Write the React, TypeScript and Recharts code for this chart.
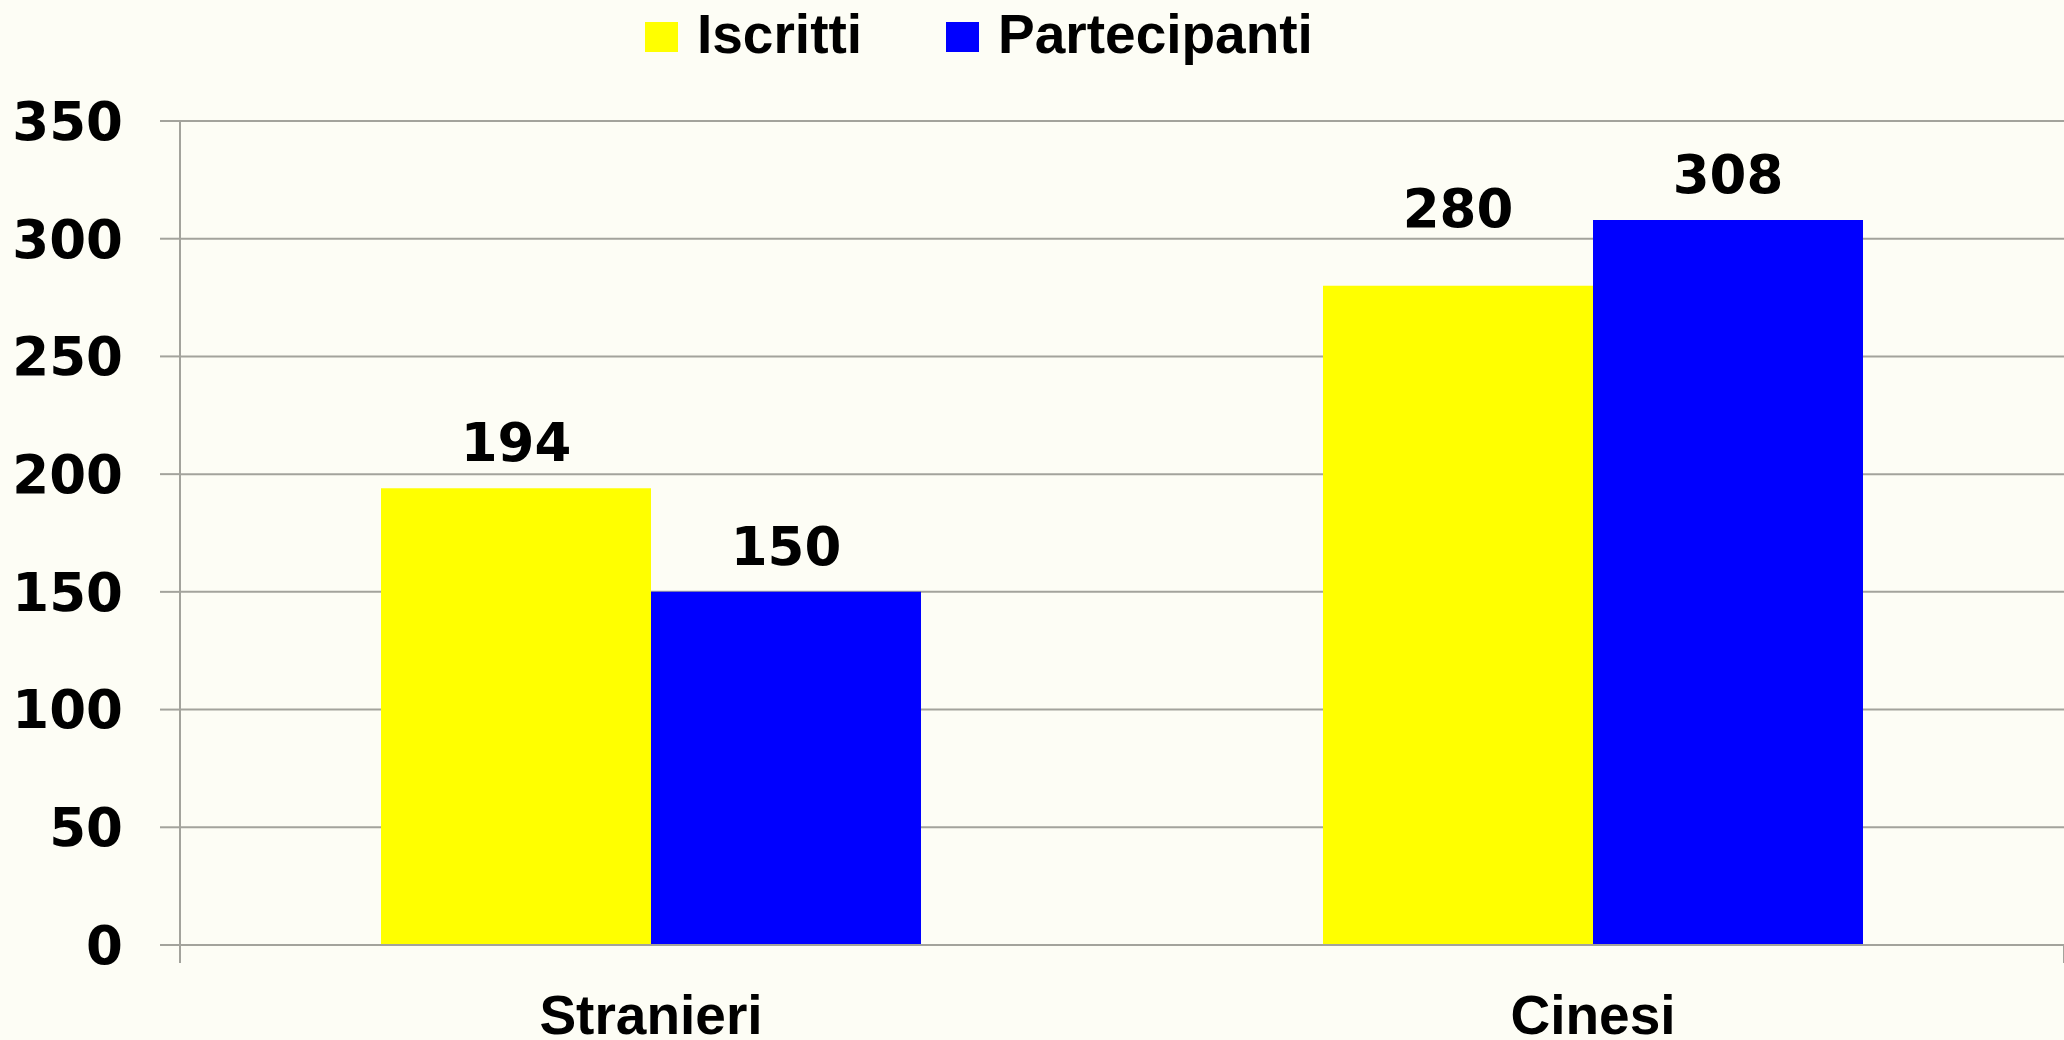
import { Bar, BarChart, CartesianGrid, LabelList, Legend, XAxis, YAxis } from "recharts";

const categories = ["Stranieri", "Cinesi"];
const iscritti = [194, 280];
const partecipanti = [150, 308];
const yTicks = [0, 50, 100, 150, 200, 250, 300, 350];
// category boundaries on a 0..2 scale (left edge and the divider)
const sepTicks = [0, 1];

const data = categories.map((name, i) => ({
  name,
  iscritti: iscritti[i],
  partecipanti: partecipanti[i],
}));

const GRID = "#a3a39c";
const NUM_FONT = "'DejaVu Sans', sans-serif";
const TEXT_FONT = "'Liberation Sans', Arial, sans-serif";

// the 280 label sits higher above its bar in the original
const iscrittiLabelGap = [27, 59];
const partecipantiLabelGap = [27, 27];

const makeLabel = (gaps: number[]) => (props: any) => {
  const { x, y, width, value, index } = props;
  return (
    <text
      x={Number(x) + Number(width) / 2}
      y={Number(y) - gaps[index]}
      textAnchor="middle"
      fontFamily={NUM_FONT}
      fontWeight={700}
      fontSize={53}
      fill="#000"
    >
      {value}
    </text>
  );
};

// legend drawn by hand so the squares and spacing match the original
const renderLegend = (props: any) => {
  const items = props.payload || [];
  return (
    <div style={{ display: "flex", alignItems: "center", height: 69 }}>
      {items.map((it: any, i: number) => (
        <div
          key={it.value}
          style={{
            display: "flex",
            alignItems: "center",
            marginLeft: i === 0 ? 0 : 84,
          }}
        >
          <span
            style={{
              display: "inline-block",
              width: 33,
              height: 30,
              background: it.color,
              marginTop: 5,
              marginRight: 19,
            }}
          />
          <span
            style={{
              fontFamily: TEXT_FONT,
              fontWeight: 700,
              fontSize: 55,
              lineHeight: 1,
              color: "#000",
            }}
          >
            {it.value}
          </span>
        </div>
      ))}
    </div>
  );
};

export default function App() {
  return (
    <div
      style={{
        position: "absolute",
        left: 0,
        top: 0,
        width: 2064,
        height: 1040,
        background: "#fdfdf5",
      }}
    >
      <BarChart
        width={2064}
        height={1040}
        data={data}
        margin={{ top: 121, right: 0, bottom: 0, left: 0 }}
        barCategoryGap={201}
        barGap={0}
      >
        <CartesianGrid vertical={false} stroke={GRID} strokeWidth={2} />
        {/* category axis is stacked first, so keep it 1px tall and let the labels hang below */}
        <XAxis
          dataKey="name"
          axisLine={{ stroke: GRID, strokeWidth: 2 }}
          tickLine={false}
          tickSize={0}
          tickMargin={50}
          height={1}
          interval={0}
          tick={{
            fontFamily: TEXT_FONT,
            fontWeight: 700,
            fontSize: 55,
            fill: "#000",
          }}
        />
        {/* boundary ticks between the two categories */}
        <XAxis
          xAxisId="sep"
          type="number"
          domain={[0, 2]}
          allowDataOverflow
          ticks={sepTicks}
          interval={0}
          tickFormatter={() => ""}
          axisLine={false}
          tickLine={{ stroke: GRID, strokeWidth: 2 }}
          tickSize={17}
          height={94}
        />
        <YAxis
          domain={[0, 350]}
          ticks={yTicks}
          width={180}
          axisLine={{ stroke: GRID, strokeWidth: 2 }}
          tickLine={{ stroke: GRID, strokeWidth: 2 }}
          tickSize={20}
          tickMargin={37}
          tick={{
            fontFamily: NUM_FONT,
            fontWeight: 700,
            fontSize: 53,
            fill: "#000",
          }}
        />
        <Legend
          verticalAlign="middle"
          align="center"
          content={renderLegend}
          wrapperStyle={{ position: "absolute", top: 0, left: 645, width: "auto" }}
        />
        <Bar dataKey="iscritti" name="Iscritti" fill="#ffff00" isAnimationActive={false}>
          <LabelList dataKey="iscritti" content={makeLabel(iscrittiLabelGap)} />
        </Bar>
        <Bar dataKey="partecipanti" name="Partecipanti" fill="#0000ff" isAnimationActive={false}>
          <LabelList dataKey="partecipanti" content={makeLabel(partecipantiLabelGap)} />
        </Bar>
      </BarChart>
    </div>
  );
}
